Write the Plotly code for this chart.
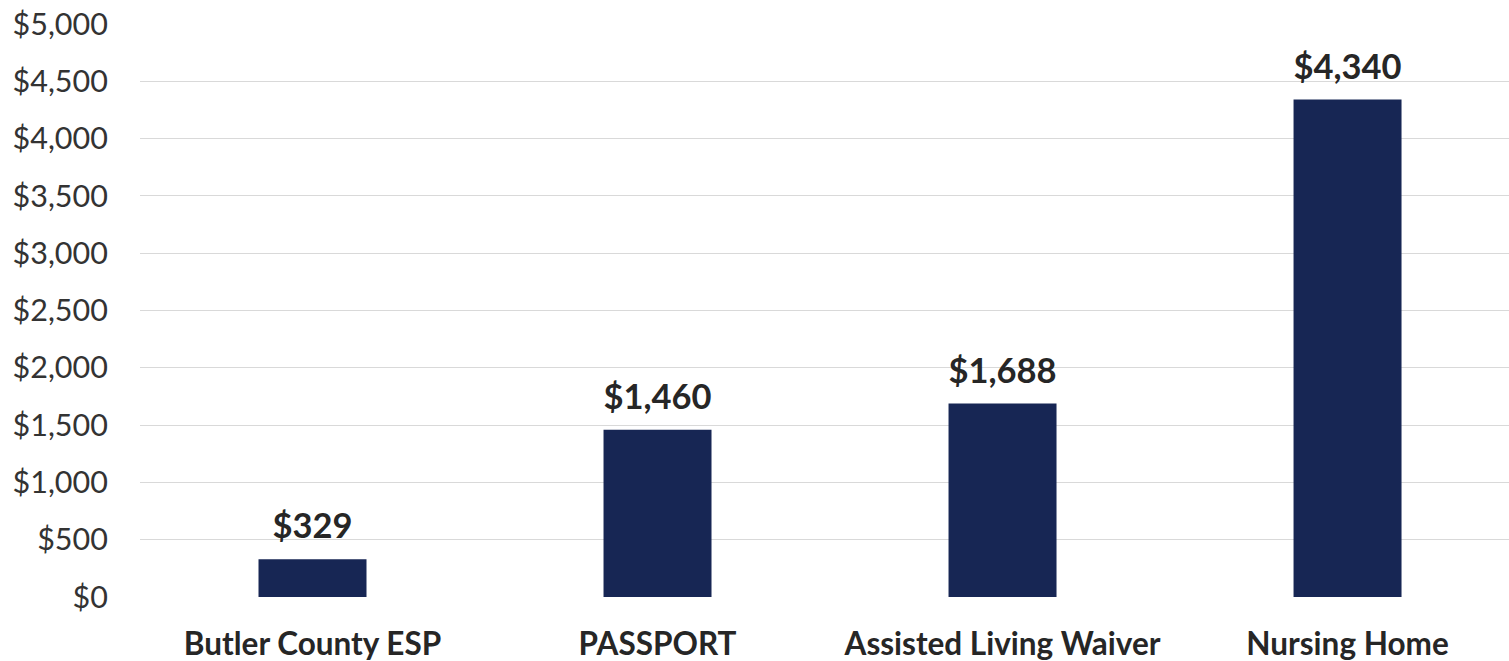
import plotly.graph_objects as go

categories = ["Butler County ESP", "PASSPORT", "Assisted Living Waiver", "Nursing Home"]
values = [329, 1460, 1688, 4340]
value_labels = ["$329", "$1,460", "$1,688", "$4,340"]
tick_vals = [0, 500, 1000, 1500, 2000, 2500, 3000, 3500, 4000, 4500, 5000]
tick_text = ["$0", "$500", "$1,000", "$1,500", "$2,000", "$2,500", "$3,000", "$3,500", "$4,000", "$4,500", "$5,000"]

FONT = "Lato"

fig = go.Figure()
fig.add_trace(go.Bar(
    x=categories, y=values,
    width=0.313,
    marker=dict(color="#172654", line=dict(width=0)),
    hoverinfo="skip",
))
fig.add_trace(go.Scatter(
    x=categories, y=values,
    mode="markers+text",
    marker=dict(size=18, opacity=0),
    text=value_labels, textposition="top center",
    textfont=dict(family=FONT, size=34.5, color="#262626", weight="bold"),
    cliponaxis=False,
    hoverinfo="skip",
))

fig.update_layout(
    width=1509, height=661,
    margin=dict(l=140, r=0, t=23, b=64, autoexpand=False),
    paper_bgcolor="white", plot_bgcolor="white",
    showlegend=False,
    font=dict(family=FONT, color="#333333"),
    xaxis=dict(
        range=[-0.5, 3.468], automargin=False,
        showgrid=False, showline=False, zeroline=False,
        tickfont=dict(family=FONT, size=31.5, color="#262626", weight="bold"),
        ticks="outside", ticklen=19, tickcolor="rgba(0,0,0,0)",
    ),
    yaxis=dict(
        range=[0, 5008], automargin=False,
        tickvals=tick_vals, ticktext=tick_text,
        ticklabeloverflow="allow",
        showgrid=True, gridcolor="#d9d9d9", gridwidth=1,
        zeroline=False, showline=False,
        tickfont=dict(family=FONT, size=30.5, color="#333333"),
        ticks="outside", ticklen=25, tickcolor="rgba(0,0,0,0)",
    ),
)

fig.write_html("out.html", config={"displayModeBar": False},
               post_script="document.body.style.margin='0';")
